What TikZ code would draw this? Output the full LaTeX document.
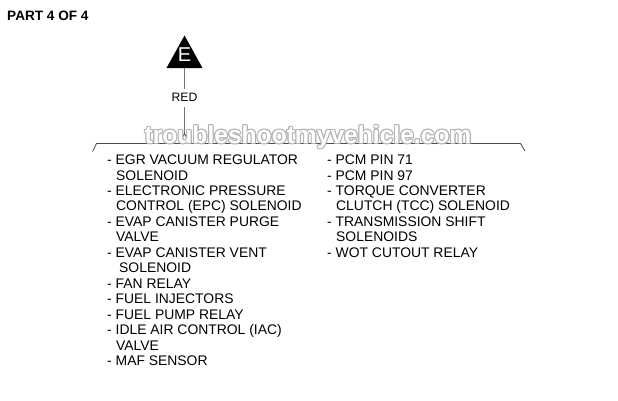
\documentclass[tikz,border=0pt]{standalone}
\usepackage{fontspec}
\setmainfont{Liberation Sans}
\begin{document}
\begin{tikzpicture}[x=1pt,y=-1pt,
  lbl/.style={anchor=base west,inner sep=0pt,font=\fontsize{13.9}{15}\selectfont},
  wire/.style={draw=black!55,line width=0.9pt},
  brk/.style={draw=black!70,line width=0.8pt},
  wm/.style={inner sep=0pt,font=\fontsize{24.6}{28}\bfseries\selectfont}]
\useasboundingbox (0,0) rectangle (618,400);
\node[anchor=base west,inner sep=0pt,font=\fontsize{13.6}{16}\bfseries\selectfont] (title) at (7,20) {PART 4 OF 4};
% connector symbol E
\coordinate (tA) at (184.5,35.5);
\coordinate (tL) at (166.5,68);
\coordinate (tR) at (202.5,68);
\fill[black] (tA) -- (tL) -- (tR) -- cycle;
\node[text=white,inner sep=0pt,font=\fontsize{20}{22}\selectfont] (E) at (184.5,55) {E};
\coordinate (tB) at (184.5,68);
\node[inner sep=0pt,font=\fontsize{12.2}{13}\selectfont] (red) at (184.5,97.7) {RED};
\coordinate (w1) at (184.5,88.5);
\coordinate (w2) at (184.5,107);
\coordinate (pk) at (184.5,133.5);
\draw[wire] (tB) -- (w1);
\draw[wire] (w2) -- (pk);
% bracket
\coordinate (bL0) at (92.5,151.5);
\coordinate (bL1) at (96.5,143.5);
\coordinate (p1) at (179.5,143.5);
\coordinate (p2) at (189.5,143.5);
\coordinate (bR1) at (520.5,143.5);
\coordinate (bR0) at (525,151);
\draw[brk] (bL0) -- (bL1) -- (p1) -- (pk) -- (p2) -- (bR1) -- (bR0);
% watermark (outlined: gray halo under white text)
\foreach \dx/\dy in {-1.1/0,1.1/0,0/-1.1,0/1.1,-0.8/-0.8,0.8/0.8,-0.8/0.8,0.8/-0.8}
  \node[wm,text=black!30] at (308+\dx,137+\dy) {troubleshootmyvehicle.com};
\node[wm,text=white] (wmk) at (308,137) {troubleshootmyvehicle.com};
% left column
\node[lbl] (l1) at (107,164.5) {- EGR VACUUM REGULATOR};
\node[lbl] (l2) at (116,180) {SOLENOID};
\node[lbl] (l3) at (107,195.4) {- ELECTRONIC PRESSURE};
\node[lbl] (l4) at (116,210.9) {CONTROL (EPC) SOLENOID};
\node[lbl] (l5) at (107,226.3) {- EVAP CANISTER PURGE};
\node[lbl] (l6) at (116,241.8) {VALVE};
\node[lbl] (l7) at (107,257.3) {- EVAP CANISTER VENT};
\node[lbl] (l8) at (119,272.7) {SOLENOID};
\node[lbl] (l9) at (107,288.2) {- FAN RELAY};
\node[lbl] (l10) at (107,303.6) {- FUEL INJECTORS};
\node[lbl] (l11) at (107,319.1) {- FUEL PUMP RELAY};
\node[lbl] (l12) at (107,334.6) {- IDLE AIR CONTROL (IAC)};
\node[lbl] (l13) at (116,350) {VALVE};
\node[lbl] (l14) at (107,365.5) {- MAF SENSOR};
% right column
\node[lbl] (r1) at (327,164.5) {- PCM PIN 71};
\node[lbl] (r2) at (327,180) {- PCM PIN 97};
\node[lbl] (r3) at (327,195.4) {- TORQUE CONVERTER};
\node[lbl] (r4) at (336,210.9) {CLUTCH (TCC) SOLENOID};
\node[lbl] (r5) at (327,226.3) {- TRANSMISSION SHIFT};
\node[lbl] (r6) at (336,241.8) {SOLENOIDS};
\node[lbl] (r7) at (327,257.3) {- WOT CUTOUT RELAY};
\end{tikzpicture}
\end{document}
